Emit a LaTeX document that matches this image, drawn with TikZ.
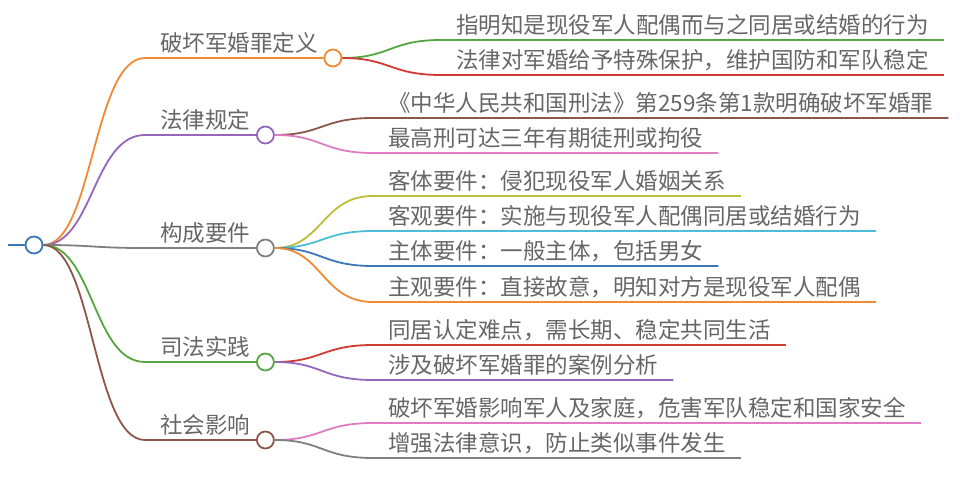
\documentclass[tikz,border=0pt]{standalone}
\usepackage{fontspec}
\setmainfont{Noto Sans CJK SC}
\usetikzlibrary{positioning}
\definecolor{txtgray}{HTML}{666666}
\definecolor{mmblue}{HTML}{3A78B8}
\definecolor{mmorange}{HTML}{F28A33}
\definecolor{mmgreen}{HTML}{55A640}
\definecolor{mmred}{HTML}{D23B32}
\definecolor{mmpurple}{HTML}{9467BD}
\definecolor{mmbrown}{HTML}{8C564B}
\definecolor{mmpink}{HTML}{E07CC4}
\definecolor{mmgray}{HTML}{808080}
\definecolor{mmolive}{HTML}{BDBE3A}
\definecolor{mmcyan}{HTML}{4CBFD4}

\begin{document}
\begin{tikzpicture}[x=1pt,y=-1pt,
    mmline/.style={line width=1.8pt},
    mmdot/.style={circle,draw,fill=white,line width=1.8pt,minimum size=17pt,inner sep=0pt},
    lab/.style={anchor=south west,inner xsep=15pt,inner ysep=4pt,text depth=2.5pt,
      text=txtgray,font=\fontsize{22.5}{27}\selectfont}]
      \useasboundingbox (0,0) rectangle (960,481);

      % root
      \coordinate (rootin) at (8,245);
      \node[mmdot,draw=mmblue] (root) at (34,245) {};
      \draw[mmline,mmblue] (rootin) -- (root.west);

      % first level
      \node[lab] (t1) at (145,58) {破坏军婚罪定义};
      \node[lab] (t2) at (145,135) {法律规定};
      \node[lab] (t3) at (145,248) {构成要件};
      \node[lab] (t4) at (145,362) {司法实践};
      \node[lab] (t5) at (145,440) {社会影响};
      \node[mmdot,draw=mmorange] (c1) at (t1.south east) {};
      \node[mmdot,draw=mmpurple] (c2) at (t2.south east) {};
      \node[mmdot,draw=mmgray] (c3) at (t3.south east) {};
      \node[mmdot,draw=mmgreen] (c4) at (t4.south east) {};
      \node[mmdot,draw=mmbrown] (c5) at (t5.south east) {};
      \draw[mmline,mmorange] (root.east) .. controls (93,245) and (93,58) .. (t1.south west) -- (c1.west);
      \draw[mmline,mmpurple] (root.east) .. controls (93,245) and (93,135) .. (t2.south west) -- (c2.west);
      \draw[mmline,mmgray] (root.east) .. controls (93,245) and (93,248) .. (t3.south west) -- (c3.west);
      \draw[mmline,mmgreen] (root.east) .. controls (93,245) and (93,362) .. (t4.south west) -- (c4.west);
      \draw[mmline,mmbrown] (root.east) .. controls (93,245) and (93,440) .. (t5.south west) -- (c5.west);

      % leaves of 定义
      \node[lab] (l11) at (441,40) {指明知是现役军人配偶而与之同居或结婚的行为};
      \node[lab] (l12) at (441,75) {法律对军婚给予特殊保护，维护国防和军队稳定};
      \draw[mmline,mmgreen] (c1.east) .. controls (390,58) and (390,40) .. (l11.south west) -- (l11.south east);
      \draw[mmline,mmred] (c1.east) .. controls (390,58) and (390,75) .. (l12.south west) -- (l12.south east);

      % leaves of 法律规定
      \node[lab] (l21) at (373,118) {《中华人民共和国刑法》第259条第1款明确破坏军婚罪};
      \node[lab] (l22) at (373,153) {最高刑可达三年有期徒刑或拘役};
      \draw[mmline,mmbrown] (c2.east) .. controls (322,135) and (322,118) .. (l21.south west) -- (l21.south east);
      \draw[mmline,mmpink] (c2.east) .. controls (322,135) and (322,153) .. (l22.south west) -- (l22.south east);

      % leaves of 构成要件
      \node[lab] (l31) at (373,196) {客体要件：侵犯现役军人婚姻关系};
      \node[lab] (l32) at (373,231) {客观要件：实施与现役军人配偶同居或结婚行为};
      \node[lab] (l33) at (373,266) {主体要件：一般主体，包括男女};
      \node[lab] (l34) at (373,302) {主观要件：直接故意，明知对方是现役军人配偶};
      \draw[mmline,mmolive] (c3.east) .. controls (322,248) and (322,196) .. (l31.south west) -- (l31.south east);
      \draw[mmline,mmcyan] (c3.east) .. controls (322,248) and (322,231) .. (l32.south west) -- (l32.south east);
      \draw[mmline,mmblue] (c3.east) .. controls (322,248) and (322,266) .. (l33.south west) -- (l33.south east);
      \draw[mmline,mmorange] (c3.east) .. controls (322,248) and (322,302) .. (l34.south west) -- (l34.south east);

      % leaves of 司法实践
      \node[lab] (l41) at (373,345) {同居认定难点，需长期、稳定共同生活};
      \node[lab] (l42) at (373,380) {涉及破坏军婚罪的案例分析};
      \draw[mmline,mmred] (c4.east) .. controls (322,362) and (322,345) .. (l41.south west) -- (l41.south east);
      \draw[mmline,mmpurple] (c4.east) .. controls (322,362) and (322,380) .. (l42.south west) -- (l42.south east);

      % leaves of 社会影响
      \node[lab] (l51) at (373,423) {破坏军婚影响军人及家庭，危害军队稳定和国家安全};
      \node[lab] (l52) at (373,458) {增强法律意识，防止类似事件发生};
      \draw[mmline,mmpink] (c5.east) .. controls (322,440) and (322,423) .. (l51.south west) -- (l51.south east);
      \draw[mmline,mmgray] (c5.east) .. controls (322,440) and (322,458) .. (l52.south west) -- (l52.south east);
    \end{tikzpicture}
\end{document}
